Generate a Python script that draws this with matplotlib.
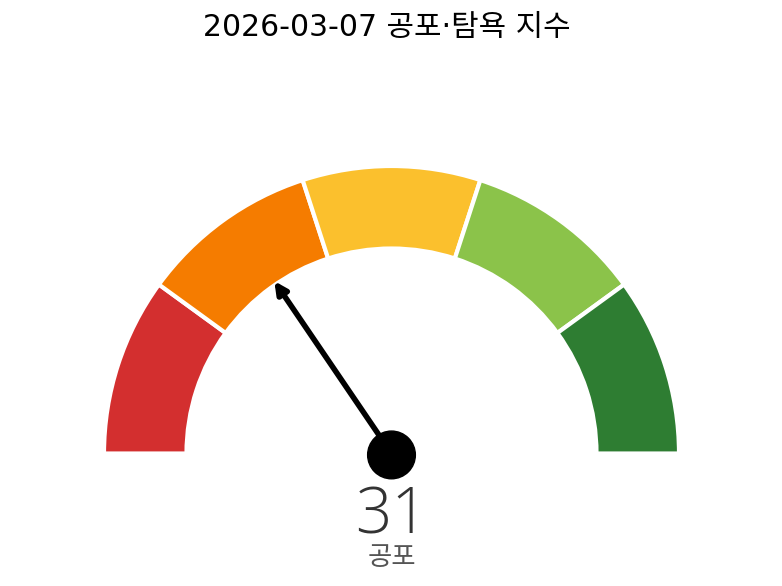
import matplotlib
matplotlib.use('Agg')
import matplotlib.pyplot as plt
from matplotlib.patches import Wedge, Circle
import numpy as np

plt.rcParams['font.family'] = ['DejaVu Sans', 'Noto Sans CJK KR']

title = '2026-03-07 공포·탐욕 지수'
value = 31
label = '공포'
bands = [0, 20, 40, 60, 80, 100]
band_colors = ['#d32f2f', '#f57c00', '#fbc02d', '#8bc34a', '#2e7d32']


def main():
	fig = plt.figure(figsize=(7.82, 5.86), dpi=100)
	ax = fig.add_axes([0, 0, 1, 1])

	# pixel layout -> data units (outer radius = 1)
	px = 287.5
	cx, cy = 391.5, 453.5
	ax.set_xlim(-cx / px, (782 - cx) / px)
	ax.set_ylim(-(586 - cy) / px, cy / px)
	ax.set_aspect('equal')
	ax.axis('off')

	for lo, hi, c in zip(bands[:-1], bands[1:], band_colors):
		t1 = 180 - hi * 1.8
		t2 = 180 - lo * 1.8
		ax.add_patch(Wedge((0, 0), 1.0, t1, t2, width=0.287,
			facecolor=c, edgecolor='white', linewidth=3))

	ang = np.radians(180 - value * 1.8)
	L = 0.725
	ax.annotate('', xy=(L * np.cos(ang), L * np.sin(ang)), xytext=(0, 0),
		arrowprops=dict(arrowstyle='-|>,head_length=0.7,head_width=0.35',
			color='black', lw=4, shrinkA=0, shrinkB=0))
	ax.add_patch(Circle((0, -0.005), 0.083, color='black', zorder=5))

	ax.text(0, (cy - 533) / px, str(value), ha='center', va='baseline',
		fontsize=46, fontweight='light', family=['Open Sans', 'DejaVu Sans'],
		color='#333333')
	ax.text(0, (cy - 565) / px, label, ha='center', va='baseline',
		fontsize=19, family=['Noto Sans CJK KR', 'DejaVu Sans'],
		color='#555555')

	fig.text(387 / 782, 1 - 27 / 586, title, ha='center', va='center',
		fontsize=21.5, color='black')

	plt.savefig('out.png', dpi=100)
	plt.close()


if __name__ == '__main__':
	main()
